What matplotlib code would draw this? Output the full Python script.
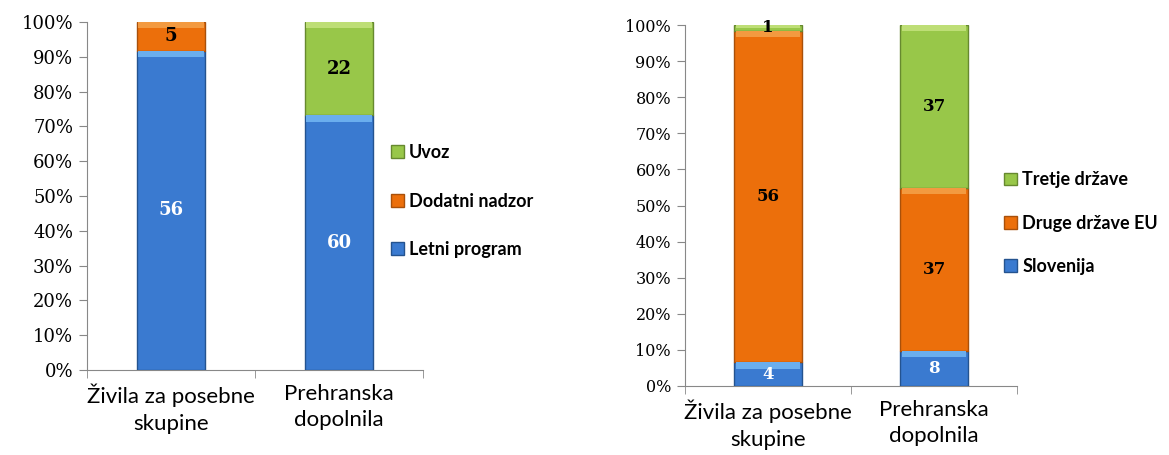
import matplotlib
matplotlib.use("Agg")
import matplotlib.pyplot as plt
import numpy as np

categories = ["Živila za posebne\nskupine", "Prehranska\ndopolnila"]

# Left chart
left_series = ["Letni program", "Dodatni nadzor", "Uvoz"]
left_values = {
    "Letni program": [56, 60],
    "Dodatni nadzor": [5, 0],
    "Uvoz": [0, 22],
}
# Right chart
right_series = ["Slovenija", "Druge države EU", "Tretje države"]
right_values = {
    "Slovenija": [4, 8],
    "Druge države EU": [56, 37],
    "Tretje države": [1, 37],
}

colors = ["#3A7AD0", "#EC6F0B", "#98C749"]
light = ["#6AAEEE", "#F39A40", "#BEDE76"]
edges = ["#24538F", "#A9500A", "#66892F"]
label_colors = [["white", "white"], ["black", "black"], ["black", "black"]]

W, H = 1169, 455
fig = plt.figure(figsize=(W / 100, H / 100), dpi=100)

def draw(ax, series, values, tick_fs, cat_fs, val_fs):
    x = np.arange(len(categories))
    totals = np.sum([values[s] for s in series], axis=0)
    bottom = np.zeros(len(categories))
    bw = 0.405
    for i, s in enumerate(series):
        v = np.array(values[s], dtype=float)
        pct = v / totals * 100
        nz = v > 0
        ax.bar(x[nz], pct[nz], bottom=bottom[nz], width=bw, color=colors[i],
               edgecolor=edges[i], linewidth=1.0, label=s, zorder=3)
        # bevel highlight on top of each segment
        band = np.minimum(pct * 0.5, 1.8)
        ax.bar(x[nz], band[nz], bottom=(bottom + pct - band)[nz], width=bw * 0.96,
               color=light[i], linewidth=0, zorder=3.5)
        for j in range(len(x)):
            if v[j] > 0:
                ax.text(x[j], bottom[j] + pct[j] / 2, f"{int(v[j])}",
                        ha="center", va="center", fontsize=val_fs, fontweight="bold",
                        family="DejaVu Serif", color=label_colors[i][j], zorder=4)
        bottom += pct
    ax.set_xlim(-0.5, len(categories) - 0.5)
    ax.set_ylim(0, 100)
    ax.set_yticks(np.arange(0, 101, 10))
    ax.set_yticklabels([f"{t}%" for t in range(0, 101, 10)],
                       family="DejaVu Serif", fontsize=tick_fs)
    ax.set_xticks(x)
    ax.set_xticklabels(categories, family="Lato", fontsize=cat_fs, linespacing=1.4)
    ax.set_xticks(np.arange(-0.5, len(categories)), minor=True)
    ax.tick_params(axis="x", which="major", length=0, pad=10)
    ax.tick_params(axis="x", which="minor", length=6, color="#888888", direction="out")
    ax.tick_params(axis="y", length=6, color="#888888", direction="out", pad=4)
    for sp in ["top", "right"]:
        ax.spines[sp].set_visible(False)
    for sp in ["left", "bottom"]:
        ax.spines[sp].set_color("#888888")

axL = fig.add_axes([87 / W, (H - 370) / H, (423 - 87) / W, 348 / H])
draw(axL, left_series, left_values, 13, 16, 13)
h, l = axL.get_legend_handles_labels()
fig.legend(h[::-1], l[::-1], loc="center left", bbox_to_anchor=(382 / W, 1 - 201 / H),
           frameon=False, prop={"family": "Lato", "size": 13, "weight": "bold"},
           handlelength=0.7, handleheight=0.7, handletextpad=0.3, labelspacing=1.75,
           borderpad=0)

axR = fig.add_axes([685 / W, (H - 386) / H, (1017 - 685) / W, 361 / H])
draw(axR, right_series, right_values, 11.5, 16, 12)
h, l = axR.get_legend_handles_labels()
fig.legend(h[::-1], l[::-1], loc="center left", bbox_to_anchor=(995 / W, 1 - 223 / H),
           frameon=False, prop={"family": "Lato", "size": 13, "weight": "bold"},
           handlelength=0.7, handleheight=0.7, handletextpad=0.3, labelspacing=1.45,
           borderpad=0)

fig.savefig("out.png", dpi=100)
